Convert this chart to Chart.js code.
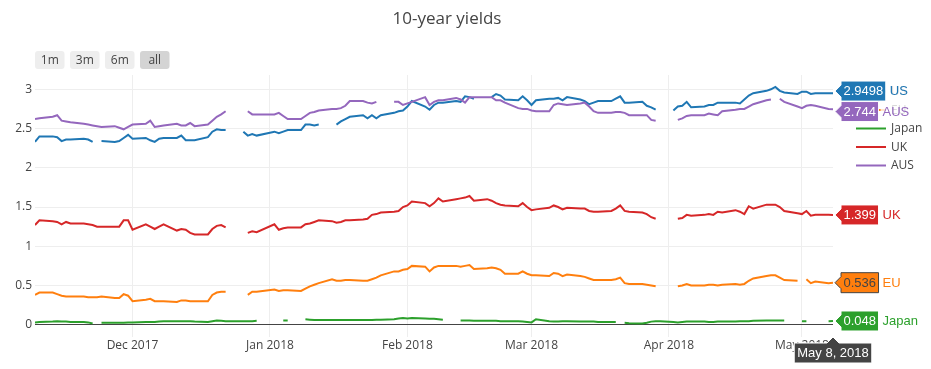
<!DOCTYPE html>
<html>
<head>
<meta charset="utf-8">
<script src="https://cdn.jsdelivr.net/npm/chart.js@4.4.0/dist/chart.umd.min.js"></script>
<style>
  body { margin: 0; background: #fff; }
  #wrap { position: relative; width: 931px; height: 369px; }
</style>
</head>
<body>
<div id="wrap"><canvas id="chart"></canvas></div>
<script>
// trading days (a row exists when at least one market was open)
const dates = [
  '2017-11-09','2017-11-10','2017-11-13','2017-11-14','2017-11-15','2017-11-16','2017-11-17','2017-11-20','2017-11-21','2017-11-22','2017-11-23','2017-11-24','2017-11-27','2017-11-28','2017-11-29','2017-11-30',
  '2017-12-01','2017-12-04','2017-12-05','2017-12-06','2017-12-07','2017-12-08','2017-12-11','2017-12-12','2017-12-13','2017-12-14','2017-12-15','2017-12-18','2017-12-19','2017-12-20','2017-12-21','2017-12-22','2017-12-25','2017-12-26','2017-12-27','2017-12-28','2017-12-29',
  '2018-01-02','2018-01-03','2018-01-04','2018-01-05','2018-01-08','2018-01-09','2018-01-10','2018-01-11','2018-01-12','2018-01-15','2018-01-16','2018-01-17','2018-01-18','2018-01-19','2018-01-22','2018-01-23','2018-01-24','2018-01-25','2018-01-26','2018-01-29','2018-01-30','2018-01-31',
  '2018-02-01','2018-02-02','2018-02-05','2018-02-06','2018-02-07','2018-02-08','2018-02-09','2018-02-12','2018-02-13','2018-02-14','2018-02-15','2018-02-16','2018-02-19','2018-02-20','2018-02-21','2018-02-22','2018-02-23','2018-02-26','2018-02-27','2018-02-28',
  '2018-03-01','2018-03-02','2018-03-05','2018-03-06','2018-03-07','2018-03-08','2018-03-09','2018-03-12','2018-03-13','2018-03-14','2018-03-15','2018-03-16','2018-03-19','2018-03-20','2018-03-21','2018-03-22','2018-03-23','2018-03-26','2018-03-27','2018-03-28','2018-03-29','2018-03-30',
  '2018-04-02','2018-04-03','2018-04-04','2018-04-05','2018-04-06','2018-04-09','2018-04-10','2018-04-11','2018-04-12','2018-04-13','2018-04-16','2018-04-17','2018-04-18','2018-04-19','2018-04-20','2018-04-23','2018-04-24','2018-04-25','2018-04-26','2018-04-27','2018-04-30',
  '2018-05-01','2018-05-02','2018-05-03','2018-05-04','2018-05-07','2018-05-08'
];

const us = [
  2.33, 2.40, 2.40, 2.39, 2.34, 2.36, 2.36, 2.37, 2.36, 2.33, null, 2.34, 2.33, 2.34, 2.38, 2.42,
  2.37, 2.38, 2.35, 2.33, 2.37, 2.38, 2.38, 2.41, 2.35, 2.35, 2.35, 2.39, 2.46, 2.49, 2.48, 2.48, null, 2.46, 2.41, 2.43, 2.41,
  2.46, 2.44, 2.46, 2.48, 2.48, 2.55, 2.55, 2.54, 2.55, null, 2.55, 2.59, 2.62, 2.65, 2.67, 2.63, 2.67, 2.63, 2.67, 2.70, 2.72, 2.73,
  2.78, 2.85, 2.78, 2.74, 2.80, 2.83, 2.83, 2.85, 2.84, 2.91, 2.90, 2.88, null, 2.90, 2.94, 2.92, 2.87, 2.86, 2.91, 2.86,
  2.80, 2.86, 2.88, 2.88, 2.89, 2.86, 2.90, 2.87, 2.85, 2.81, 2.83, 2.85, 2.85, 2.88, 2.91, 2.83, 2.83, 2.84, 2.79, 2.77, 2.74, null,
  2.73, 2.78, 2.79, 2.84, 2.77, 2.78, 2.80, 2.80, 2.83, 2.83, 2.83, 2.82, 2.87, 2.92, 2.95, 2.98, 3.00, 3.03, 2.98, 2.96, 2.94,
  2.97, 2.97, 2.94, 2.95, 2.95, 2.9498
];

const eu = [
  0.38, 0.41, 0.41, 0.39, 0.37, 0.36, 0.36, 0.36, 0.35, 0.35, 0.35, 0.36, 0.34, 0.34, 0.39, 0.37,
  0.30, 0.32, 0.33, 0.30, 0.30, 0.30, 0.29, 0.31, 0.31, 0.30, 0.30, 0.30, 0.38, 0.41, 0.42, 0.42, null, null, 0.38, 0.42, 0.42,
  0.45, 0.43, 0.44, 0.44, 0.43, 0.46, 0.49, 0.51, 0.53, 0.58, 0.56, 0.56, 0.57, 0.57, 0.56, 0.56, 0.58, 0.60, 0.63, 0.68, 0.68, 0.70,
  0.71, 0.75, 0.74, 0.68, 0.73, 0.75, 0.75, 0.75, 0.74, 0.75, 0.76, 0.71, 0.72, 0.73, 0.72, 0.70, 0.65, 0.65, 0.68, 0.65,
  0.63, 0.63, 0.62, 0.66, 0.65, 0.62, 0.64, 0.62, 0.61, 0.59, 0.57, 0.57, 0.57, 0.58, 0.60, 0.53, 0.52, 0.52, 0.51, 0.50, 0.49, null,
  null, 0.49, 0.50, 0.52, 0.50, 0.50, 0.51, 0.51, 0.50, 0.51, 0.52, 0.51, 0.52, 0.56, 0.59, 0.62, 0.63, 0.63, 0.60, 0.57, 0.56,
  null, 0.58, 0.53, 0.55, 0.53, 0.536
];

const japan = [
  0.030, 0.035, 0.040, 0.045, 0.040, 0.040, 0.035, 0.035, 0.030, 0.015, null, 0.025, 0.025, 0.025, 0.025, 0.030,
  0.030, 0.035, 0.035, 0.035, 0.040, 0.045, 0.045, 0.045, 0.045, 0.045, 0.040, 0.035, 0.045, 0.055, 0.050, 0.045, 0.045, 0.045, 0.045, 0.045, 0.050,
  null, null, 0.055, 0.055, null, 0.070, 0.065, 0.060, 0.060, 0.060, 0.060, 0.060, 0.060, 0.060, 0.060, 0.060, 0.060, 0.065, 0.065, 0.070, 0.080, 0.085,
  0.080, 0.085, 0.080, 0.075, 0.075, 0.070, 0.065, null, 0.055, 0.055, 0.055, 0.050, 0.050, 0.050, 0.050, 0.045, 0.045, 0.045, 0.040, 0.035,
  0.030, 0.070, 0.045, 0.040, 0.040, 0.045, 0.045, 0.040, 0.040, 0.040, 0.040, 0.035, 0.035, 0.035, null, 0.025, 0.020, 0.015, 0.025, 0.040, 0.045, 0.045,
  0.035, 0.030, 0.035, 0.040, 0.040, 0.040, 0.035, 0.035, 0.040, 0.040, 0.040, 0.045, 0.045, 0.045, 0.050, 0.055, 0.055, 0.055, 0.055, 0.055, null,
  0.045, 0.045, null, null, 0.045, 0.048
];

const uk = [
  1.27, 1.33, 1.32, 1.31, 1.28, 1.31, 1.29, 1.29, 1.28, 1.27, 1.25, 1.25, 1.25, 1.25, 1.33, 1.33,
  1.21, 1.28, 1.25, 1.22, 1.25, 1.28, 1.20, 1.22, 1.21, 1.17, 1.15, 1.15, 1.22, 1.26, 1.27, 1.24, null, null, 1.17, 1.19, 1.18,
  1.28, 1.21, 1.23, 1.24, 1.24, 1.28, 1.29, 1.31, 1.33, 1.32, 1.30, 1.31, 1.33, 1.33, 1.34, 1.35, 1.40, 1.41, 1.43, 1.44, 1.45, 1.50,
  1.52, 1.57, 1.55, 1.51, 1.55, 1.61, 1.57, 1.60, 1.61, 1.62, 1.64, 1.58, 1.60, 1.58, 1.55, 1.53, 1.52, 1.51, 1.55, 1.50,
  1.46, 1.47, 1.49, 1.52, 1.50, 1.47, 1.49, 1.48, 1.48, 1.45, 1.44, 1.44, 1.45, 1.48, 1.52, 1.45, 1.44, 1.43, 1.41, 1.37, 1.35, null,
  null, 1.35, 1.36, 1.40, 1.39, 1.40, 1.41, 1.40, 1.44, 1.43, 1.46, 1.44, 1.41, 1.51, 1.48, 1.53, 1.53, 1.53, 1.50, 1.45, 1.42,
  1.41, 1.45, 1.39, 1.40, 1.40, 1.399
];

const aus = [
  2.62, 2.63, 2.65, 2.67, 2.60, 2.59, 2.58, 2.56, 2.55, 2.54, 2.53, 2.52, 2.53, 2.51, 2.49, 2.52,
  2.55, 2.56, 2.60, 2.52, 2.53, 2.54, 2.56, 2.54, 2.54, 2.57, 2.53, 2.55, 2.60, 2.65, 2.68, 2.72, null, null, 2.72, 2.68, 2.68,
  2.68, 2.70, 2.66, 2.62, 2.62, 2.66, 2.70, 2.71, 2.73, 2.75, 2.75, 2.76, 2.79, 2.85, 2.85, 2.83, 2.82, 2.84, null, 2.84, 2.84, 2.80,
  2.82, 2.84, 2.90, 2.80, 2.84, 2.86, 2.86, 2.89, 2.87, 2.83, 2.90, 2.90, 2.90, 2.90, 2.86, 2.86, 2.83, 2.76, 2.75, 2.75,
  2.73, 2.72, 2.72, 2.80, 2.82, 2.81, 2.80, 2.82, 2.83, 2.78, 2.72, 2.70, 2.70, 2.71, 2.71, 2.70, 2.67, 2.67, 2.67, 2.61, 2.60, null,
  null, 2.61, 2.63, 2.66, 2.67, 2.67, 2.69, 2.68, 2.67, 2.72, 2.74, 2.75, 2.75, 2.78, 2.81, 2.86, 2.87, null, 2.88, 2.84, 2.78,
  2.76, 2.79, 2.80, 2.79, 2.75, 2.744
];

const seriesNames = ['US', 'EU', 'Japan', 'UK', 'AUS'];
const tickDates = ['2017-12-01', '2018-01-01', '2018-02-01', '2018-03-01', '2018-04-01', '2018-05-01'];
const tickLabels = ['Dec 2017', 'Jan 2018', 'Feb 2018', 'Mar 2018', 'Apr 2018', 'May 2018'];
const yTicks = [0, 0.5, 1, 1.5, 2, 2.5, 3];
const buttons = ['1m', '3m', '6m', 'all'];
const hoverDate = 'May 8, 2018';

const toTs = d => Date.parse(d + 'T00:00:00Z');
const xs = dates.map(toTs);
const colors = ['#1f77b4', '#ff7f0e', '#2ca02c', '#d62728', '#9467bd'];
const values = [us, eu, japan, uk, aus];

const FONT = '"Open Sans", sans-serif';
const HOVER_FONT = '13px "Liberation Sans", Arial, sans-serif';

function lastValue(arr) {
  for (let i = arr.length - 1; i >= 0; i--) if (arr[i] !== null) return i;
  return -1;
}

function roundRect(ctx, x, y, w, h, r) {
  ctx.beginPath();
  ctx.moveTo(x + r, y);
  ctx.arcTo(x + w, y, x + w, y + h, r);
  ctx.arcTo(x + w, y + h, x, y + h, r);
  ctx.arcTo(x, y + h, x, y, r);
  ctx.arcTo(x, y, x + w, y, r);
  ctx.closePath();
}

// title, range buttons, legend and the hover labels on top of the chart
const decor = {
  id: 'decor',
  afterDraw(chart) {
    const ctx = chart.ctx;
    const area = chart.chartArea;
    ctx.save();

    // title
    ctx.fillStyle = '#444';
    ctx.font = '17px ' + FONT;
    ctx.textAlign = 'center';
    ctx.textBaseline = 'middle';
    ctx.fillText('10-year yields', 447, 19);

    // range selector buttons
    ctx.font = '12px ' + FONT;
    buttons.forEach((b, i) => {
      const bx = 35 + i * 35;
      roundRect(ctx, bx, 51, 29.5, 18, 3);
      ctx.fillStyle = b === 'all' ? '#d4d4d4' : '#eee';
      ctx.fill();
      ctx.fillStyle = '#444';
      ctx.fillText(b, bx + 14.75, 60.5);
    });

    // legend
    ctx.textAlign = 'left';
    seriesNames.forEach((name, i) => {
      const ly = 91.5 + i * 18.5;
      ctx.strokeStyle = colors[i];
      ctx.lineWidth = 2;
      ctx.beginPath();
      ctx.moveTo(856, ly);
      ctx.lineTo(886, ly);
      ctx.stroke();
      ctx.fillStyle = '#444';
      ctx.fillText(name, 891, ly + 0.5);
    });

    // hover labels at the last point
    const xScale = chart.scales.x;
    const yScale = chart.scales.y;
    const H = 20;
    const labels = values.map((arr, i) => {
      const j = lastValue(arr);
      return { i, v: arr[j], x: xScale.getPixelForValue(xs[j]), y: yScale.getPixelForValue(arr[j]) };
    });
    const sorted = labels.slice().sort((a, b) => a.y - b.y);
    for (let it = 0; it < 20; it++) {
      for (let k = 1; k < sorted.length; k++) {
        const gap = sorted[k].y - sorted[k - 1].y;
        if (gap < H + 0.5) {
          const d = (H + 0.5 - gap) / 2;
          sorted[k - 1].y -= d;
          sorted[k].y += d;
        }
      }
    }
    ctx.font = HOVER_FONT;
    labels.forEach(l => {
      const text = String(l.v);
      const tw = ctx.measureText(text).width;
      const w = tw + 5;
      const x0 = l.x + 2;
      const y0 = l.y;
      const light = colors[l.i] === '#ff7f0e';
      ctx.beginPath();
      ctx.moveTo(x0, y0);
      ctx.lineTo(x0 + 6, y0 - 6);
      ctx.lineTo(x0 + 6, y0 - H / 2);
      ctx.lineTo(x0 + 6 + w, y0 - H / 2);
      ctx.lineTo(x0 + 6 + w, y0 + H / 2);
      ctx.lineTo(x0 + 6, y0 + H / 2);
      ctx.lineTo(x0 + 6, y0 + 6);
      ctx.closePath();
      ctx.fillStyle = colors[l.i];
      ctx.fill();
      ctx.strokeStyle = light ? '#444' : '#fff';
      ctx.lineWidth = 1;
      ctx.stroke();
      ctx.fillStyle = light ? '#444' : '#fff';
      ctx.textAlign = 'left';
      ctx.textBaseline = 'middle';
      ctx.fillText(text, x0 + 8.5, y0 + 0.5);

      const name = seriesNames[l.i];
      const nx = x0 + 6 + w + 4;
      const nw = ctx.measureText(name).width;
      ctx.fillStyle = 'rgba(255,255,255,0.8)';
      ctx.fillRect(nx - 2, y0 - H / 2, nw + 4, H);
      ctx.fillStyle = colors[l.i];
      ctx.fillText(name, nx, y0 + 0.5);
    });

    // x hover label
    const hx = xScale.getPixelForValue(xs[xs.length - 1]);
    const hy = area.bottom;
    const dw = ctx.measureText(hoverDate).width + 6;
    ctx.beginPath();
    ctx.moveTo(hx, hy);
    ctx.lineTo(hx + 6, hy + 6);
    ctx.lineTo(hx + dw / 2, hy + 6);
    ctx.lineTo(hx + dw / 2, hy + 6 + H);
    ctx.lineTo(hx - dw / 2, hy + 6 + H);
    ctx.lineTo(hx - dw / 2, hy + 6);
    ctx.lineTo(hx - 6, hy + 6);
    ctx.closePath();
    ctx.fillStyle = '#444';
    ctx.fill();
    ctx.strokeStyle = '#fff';
    ctx.stroke();
    ctx.fillStyle = '#fff';
    ctx.textAlign = 'center';
    ctx.fillText(hoverDate, hx, hy + 6 + H / 2 + 0.5);

    ctx.restore();
  }
};

new Chart(document.getElementById('chart'), {
  type: 'line',
  data: {
    datasets: values.map((arr, i) => ({
      label: seriesNames[i],
      data: arr.map((v, j) => ({ x: xs[j], y: v })),
      borderColor: colors[i],
      backgroundColor: colors[i],
      borderWidth: 2,
      pointRadius: 0,
      tension: 0,
      spanGaps: false,
      order: values.length - i
    }))
  },
  options: {
    responsive: true,
    maintainAspectRatio: false,
    animation: false,
    events: [],
    layout: { padding: { top: 75, right: 98, left: 0, bottom: 0 } },
    plugins: {
      legend: { display: false },
      tooltip: { enabled: false }
    },
    scales: {
      x: {
        type: 'linear',
        min: xs[0],
        max: xs[xs.length - 1],
        afterBuildTicks: sc => { sc.ticks = tickDates.map(d => ({ value: toTs(d) })); },
        afterFit: sc => { sc.height = 32; },
        grid: { color: '#eee', lineWidth: 1, drawTicks: false },
        border: { display: false },
        ticks: {
          autoSkip: false,
          maxRotation: 0,
          padding: 1,
          color: '#444',
          font: { family: FONT, size: 12 },
          callback: (v, i) => tickLabels[i]
        }
      },
      y: {
        min: -0.156,
        max: 3.182,
        afterBuildTicks: sc => { sc.ticks = yTicks.map(v => ({ value: v })); },
        afterFit: sc => { sc.width = 35; },
        grid: {
          color: c => (c.tick && c.tick.value === 0 ? '#444' : '#eee'),
          lineWidth: 1,
          drawTicks: false
        },
        border: { display: false },
        ticks: {
          padding: 3,
          color: '#444',
          font: { family: FONT, size: 12 },
          callback: v => String(v)
        }
      }
    }
  },
  plugins: [decor]
});
</script>
</body>
</html>
